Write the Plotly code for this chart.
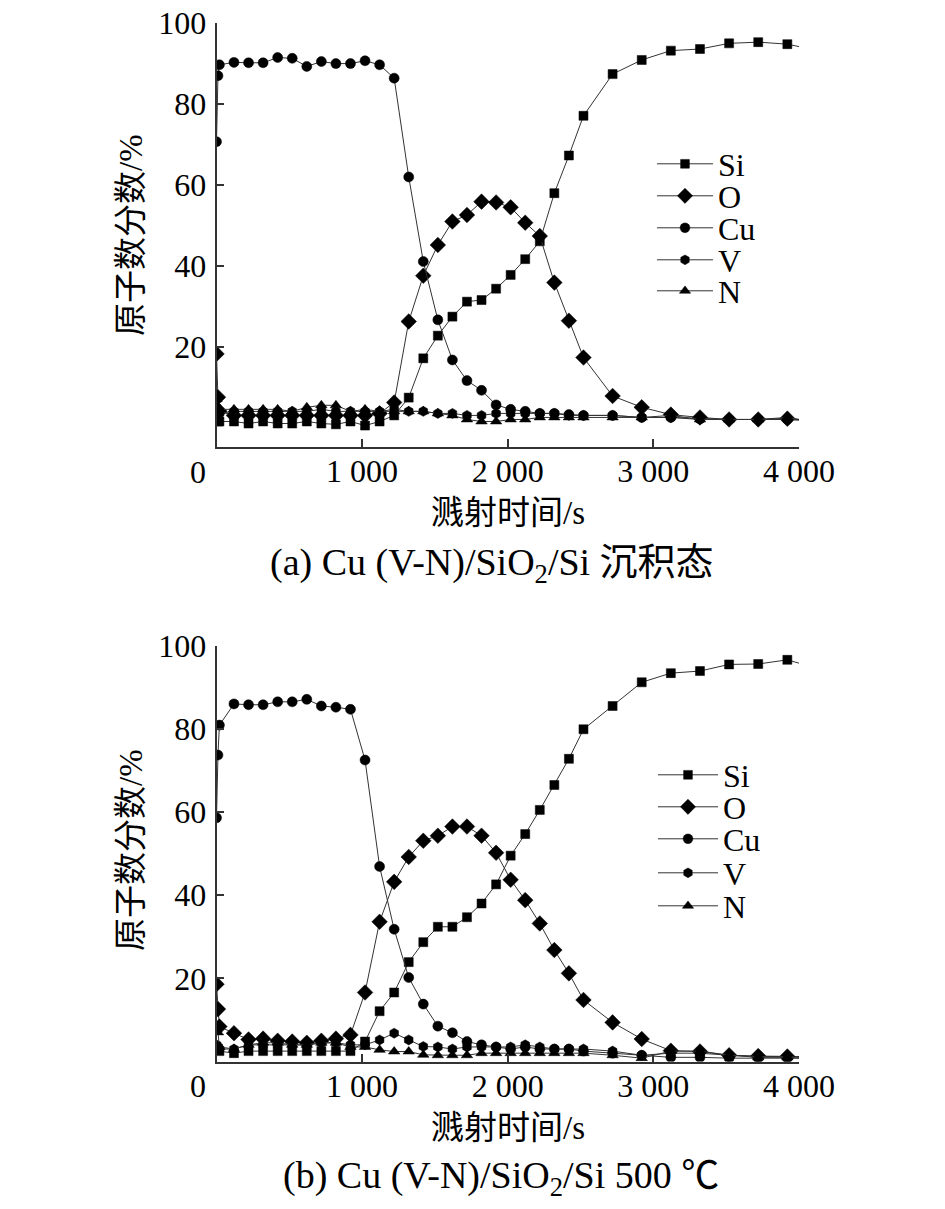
import plotly.graph_objects as go

# ---------------- data ----------------
time_s = [0, 10, 20, 120, 220, 320, 420, 520, 620, 720, 820, 920, 1020, 1120, 1220,
          1320, 1420, 1520, 1620, 1720, 1820, 1920, 2020, 2120, 2220, 2320, 2420, 2520,
          2720, 2920, 3120, 3320, 3520, 3720, 3920, 4000]

# (a) as-deposited
a_si = [2.0, 1.5, 1.5, 1.5, 1.0, 1.5, 1.0, 1.0, 1.5, 1.0, 0.8, 1.5, 0.5, 1.5, 3.0, 7.4, 17.1,
        22.7, 27.4, 31.1, 31.5, 34.3, 37.7, 41.6, 46.0, 57.9, 67.2, 77.0, 87.3, 90.8, 93.1,
        93.5, 94.9, 95.2, 94.7, 94.1]
a_o = [18.2, 7.5, 4.0, 3.0, 3.0, 3.0, 3.0, 3.0, 3.0, 3.0, 3.0, 3.0, 3.0, 3.5, 6.2, 26.2, 37.5,
       45.1, 50.9, 52.5, 55.8, 55.6, 54.4, 50.6, 47.3, 35.8, 26.4, 17.3, 7.8, 5.0, 3.2, 2.5,
       2.0, 2.0, 2.2, 2.0]
a_cu = [70.6, 86.9, 89.6, 90.2, 90.1, 90.1, 91.4, 91.2, 89.2, 90.4, 89.9, 89.9, 90.6, 89.6,
        86.3, 61.9, 41.0, 26.6, 16.7, 11.6, 9.2, 5.6, 4.5, 4.0, 3.5, 3.5, 3.2, 3.0, 3.0, 2.5,
        2.5, 2.2, 2.0, 2.0, 2.0, 1.8]
a_v = [5.0, 4.0, 3.5, 4.0, 4.0, 4.0, 4.0, 4.0, 4.0, 4.5, 4.0, 4.0, 4.0, 4.0, 4.5, 4.0, 4.0,
       3.5, 3.5, 3.0, 3.0, 3.5, 3.5, 3.5, 3.5, 3.5, 3.0, 3.0, 3.0, 2.5, 2.5, 2.0, 2.0, 2.0,
       2.2, 2.0]
a_n = [7.0, 5.0, 4.5, 4.5, 4.5, 4.5, 4.5, 4.0, 5.0, 5.5, 5.5, 4.0, 4.5, 4.0, 4.0, 4.0, 4.0,
       3.5, 3.0, 2.0, 1.5, 1.5, 2.0, 2.0, 2.5, 2.5, 2.5, 2.5, 2.5, 2.5, 3.0, 2.0, 2.0, 2.0,
       2.5, 2.0]

# (b) 500 °C
b_si = [3.5, 3.0, 2.5, 2.0, 2.5, 2.5, 2.5, 2.5, 2.5, 2.5, 2.5, 2.5, 4.8, 12.1, 16.6, 23.9,
        28.7, 32.4, 32.4, 34.7, 38.0, 42.6, 49.5, 54.7, 60.5, 66.5, 72.8, 79.9, 85.5, 91.2,
        93.4, 93.9, 95.5, 95.6, 96.6, 95.8]
b_o = [18.6, 12.6, 8.4, 6.8, 5.3, 5.5, 5.0, 4.8, 4.5, 5.0, 5.5, 6.4, 16.6, 33.6, 43.2, 49.2,
       53.1, 54.3, 56.5, 56.5, 54.3, 50.2, 43.7, 38.8, 33.2, 26.8, 21.2, 14.8, 9.4, 5.4, 2.6,
       2.4, 1.5, 1.3, 1.2, 1.2]
b_cu = [58.6, 73.7, 80.9, 86.0, 85.8, 85.8, 86.5, 86.5, 87.1, 85.5, 85.2, 84.7, 72.5, 46.9,
        31.8, 20.2, 13.8, 8.5, 6.9, 4.8, 4.0, 3.5, 3.0, 3.5, 3.0, 3.0, 3.0, 2.5, 2.0, 1.5,
        1.0, 1.0, 0.8, 0.8, 0.8, 0.8]
b_v = [4.0, 3.5, 3.0, 3.0, 4.0, 4.0, 4.0, 4.0, 4.0, 4.5, 4.5, 4.0, 4.0, 5.2, 6.8, 5.2, 3.6,
       3.5, 3.0, 3.5, 3.5, 3.5, 3.5, 4.0, 3.5, 3.0, 3.0, 3.0, 2.5, 1.5, 2.0, 2.0, 1.5, 1.2,
       1.2, 1.0]
b_n = [8.0, 7.0, 3.5, 3.0, 4.0, 4.5, 4.5, 4.0, 4.0, 4.5, 4.5, 3.5, 3.5, 2.8, 2.4, 2.4, 1.6,
       1.5, 1.5, 1.5, 2.0, 2.0, 2.0, 2.0, 2.0, 2.0, 2.0, 2.0, 1.5, 0.8, 2.5, 2.5, 1.5, 1.0,
       1.0, 0.8]

series_names = ["Si", "O", "Cu", "V", "N"]
symbols = ["square", "diamond", "circle", "hexagon", "triangle-up"]
sizes = [9, 12, 10, 10, 10]

x_tickvals = [1000, 2000, 3000, 4000]
x_ticktext = ["1 000", "2 000", "3 000", "4 000"]
y_tickvals = [20, 40, 60, 80, 100]

# ---------------- layout geometry ----------------
# page body has an 8 px margin; size the figure so the page fits the window
OFF = 8
W, H = 945 - 2 * OFF, 1209 - 2 * OFF
FONT = "Liberation Serif, Times New Roman, Noto Sans CJK SC, serif"
INK = "#000000"
LINE = "#333333"

def px_x(p):
    return (p - OFF) / W

def px_y(p):
    return 1 - (p - OFF) / H

xdom = [px_x(216.5), px_x(799)]
ydom_a = [px_y(447), px_y(22.7)]
ydom_b = [px_y(1061.5), px_y(645.7)]

fig = go.Figure()

panels = [
    (a_si, a_o, a_cu, a_v, a_n, "x", "y", [164, 196, 228, 260, 291], 652, 56, 0),
    (b_si, b_o, b_cu, b_v, b_n, "x2", "y2", [775, 807, 839, 873, 906], 653, 60, 5),
]

legend_layouts = {}
for (si, o, cu, v, n, xa, ya, leg_y, leg_x, itemw, leg_off) in panels:
    data = [si, o, cu, v, n]
    for i, name in enumerate(series_names):
        vals = data[i]
        msize = [sizes[i]] * (len(vals) - 1) + [0]
        leg_key = "legend" if (leg_off + i) == 0 else f"legend{leg_off + i + 1}"
        fig.add_trace(go.Scatter(
            x=time_s, y=vals, name=name, mode="lines+markers",
            xaxis=xa, yaxis=ya,
            line=dict(color=LINE, width=1),
            marker=dict(symbol=symbols[i], size=msize, color=INK, opacity=1,
                        line=dict(width=0.5, color=INK)),
            legend=leg_key, showlegend=True,
        ))
        legend_layouts[leg_key] = dict(
            x=px_x(leg_x), y=px_y(leg_y[i]), xanchor="left", yanchor="middle",
            bgcolor="rgba(0,0,0,0)", borderwidth=0, itemwidth=itemw,
            font=dict(family=FONT, size=32, color=INK), itemclick=False,
        )

axis_common = dict(
    showline=True, linecolor=LINE, linewidth=1.5, mirror=False,
    ticks="inside", ticklen=8, tickwidth=1.5, tickcolor=LINE,
    showgrid=False, zeroline=False, ticklabeloverflow="allow",
    tickfont=dict(family=FONT, size=32, color=INK),
)
xaxis_common = dict(axis_common, ticklabelstandoff=-5)
yaxis_common = dict(axis_common, ticklabelstandoff=2)

fig.update_layout(
    width=W, height=H, autosize=False,
    margin=dict(l=0, r=0, t=0, b=0, pad=0, autoexpand=False),
    paper_bgcolor="white", plot_bgcolor="white",
    font=dict(family=FONT, color=INK),
    xaxis=dict(domain=xdom, anchor="y", range=[0, 4000], tickvals=x_tickvals,
               ticktext=x_ticktext, **xaxis_common),
    yaxis=dict(domain=ydom_a, anchor="x", range=[-4.8, 100], tickvals=y_tickvals,
               **yaxis_common),
    xaxis2=dict(domain=xdom, anchor="y2", range=[0, 4000], tickvals=x_tickvals,
                ticktext=x_ticktext, **xaxis_common),
    yaxis2=dict(domain=ydom_b, anchor="x2", range=[0, 100], tickvals=y_tickvals,
                **yaxis_common),
    **legend_layouts,
)

tick_font = dict(family=FONT, size=32, color=INK)
title_font = dict(family=FONT, size=33, color=INK)
cap_font = dict(family=FONT, size=38, color=INK)
annotations = [
    # "0" origin labels
    dict(text="0", xref="paper", yref="paper", x=px_x(198), y=px_y(472), showarrow=False,
         font=tick_font, xanchor="center", yanchor="middle"),
    dict(text="0", xref="paper", yref="paper", x=px_x(198), y=px_y(1086), showarrow=False,
         font=tick_font, xanchor="center", yanchor="middle"),
    # x titles
    dict(text="溅射时间/s", xref="paper", yref="paper", x=px_x(508), y=px_y(513),
         showarrow=False, font=title_font, xanchor="center", yanchor="middle"),
    dict(text="溅射时间/s", xref="paper", yref="paper", x=px_x(508), y=px_y(1128),
         showarrow=False, font=title_font, xanchor="center", yanchor="middle"),
    # y titles
    dict(text="原子数分数/%", xref="paper", yref="paper", x=px_x(131), y=px_y(235),
         showarrow=False, font=title_font, textangle=-90, xanchor="center", yanchor="middle"),
    dict(text="原子数分数/%", xref="paper", yref="paper", x=px_x(131), y=px_y(850),
         showarrow=False, font=title_font, textangle=-90, xanchor="center", yanchor="middle"),
    # captions
    dict(text="(a) Cu (V-N)/SiO<sub>2</sub>/Si 沉积态", xref="paper", yref="paper",
         x=px_x(492), y=px_y(565), showarrow=False, font=cap_font,
         xanchor="center", yanchor="middle"),
    dict(text="(b) Cu (V-N)/SiO<sub>2</sub>/Si 500 ℃", xref="paper", yref="paper",
         x=px_x(501), y=px_y(1178), showarrow=False, font=cap_font,
         xanchor="center", yanchor="middle"),
]
fig.update_layout(annotations=annotations)

fig.write_html("out.html")
